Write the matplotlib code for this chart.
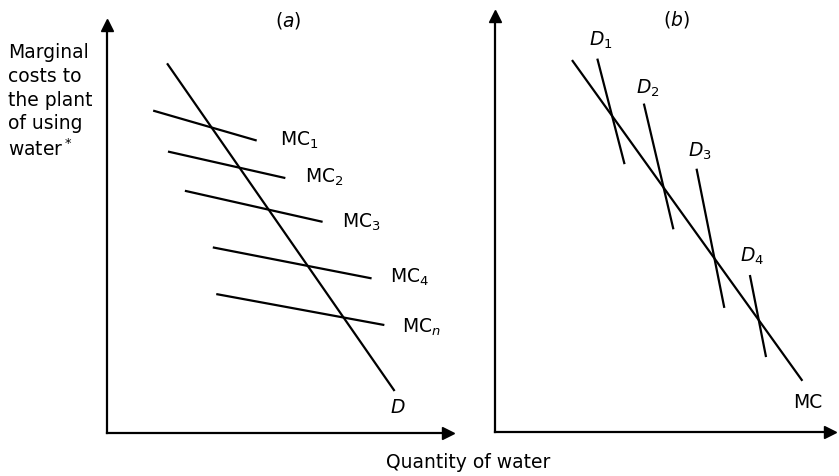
import matplotlib
matplotlib.use("Agg")
import matplotlib.pyplot as plt

# panel (a): the plant's demand curve D and a family of marginal cost curves
demand_x = [17.6, 83.2]
demand_y = [89.3, 10.4]

mc_names = ["MC$_1$", "MC$_2$", "MC$_3$", "MC$_4$", "MC$_n$"]
mc_x = [[13.7, 43.1], [18.0, 51.4], [22.9, 62.2], [31.0, 76.4], [32.0, 80.1]]
mc_y = [[78.0, 70.9], [68.1, 61.8], [58.6, 51.2], [44.9, 37.5], [33.6, 26.2]]
mc_label_x = [50.1, 57.4, 68.0, 82.0, 85.6]
mc_label_y = [70.9, 62.0, 51.1, 37.8, 25.7]

# panel (b): one marginal cost curve and several demand curves
mc_line_x = [22.7, 89.7]
mc_line_y = [88.3, 12.4]

d_names = ["$D_1$", "$D_2$", "$D_3$", "$D_4$"]
d_x = [[30.0, 37.8], [43.6, 52.1], [59.0, 67.0], [74.6, 79.2]]
d_y = [[88.6, 64.0], [77.9, 48.5], [62.4, 29.8], [37.1, 18.1]]
d_label_x = [31.0, 44.8, 59.9, 75.3]
d_label_y = [93.3, 81.9, 66.7, 41.7]

LW = 1.6
FS = 13.5

fig = plt.figure(figsize=(8.39, 4.76), dpi=100)
ax_a = fig.add_axes([0.1275, 0.0903, 0.4070, 0.8580])
ax_b = fig.add_axes([0.5900, 0.0924, 0.3990, 0.8740])


def setup_axes(ax, xmax, ymax):
    ax.set_xlim(0, xmax)
    ax.set_ylim(0, ymax)
    for side in ["top", "right"]:
        ax.spines[side].set_visible(False)
    for side in ["left", "bottom"]:
        ax.spines[side].set_linewidth(LW)
    ax.set_xticks([])
    ax.set_yticks([])
    # arrow heads at the ends of both axes
    ax.plot(1, 0, ">k", ms=8, transform=ax.transAxes, clip_on=False)
    ax.plot(0, 1, "^k", ms=8, transform=ax.transAxes, clip_on=False)


setup_axes(ax_a, 99.0, 98.9)
setup_axes(ax_b, 97.9, 99.0)

ax_a.plot(demand_x, demand_y, color="black", lw=LW)
ax_a.text(84.3, 6.3, "$D$", fontsize=FS, ha="center", va="center")
for name, xs, ys, lx, ly in zip(mc_names, mc_x, mc_y, mc_label_x, mc_label_y):
    ax_a.plot(xs, ys, color="black", lw=LW)
    ax_a.text(lx, ly, name, fontsize=FS, ha="left", va="center")
ax_a.text(52.5, 100, "($a$)", fontsize=FS, ha="center", va="center")

ax_b.plot(mc_line_x, mc_line_y, color="black", lw=LW)
ax_b.text(91.6, 7.1, "MC", fontsize=FS, ha="center", va="center")
for name, xs, ys, lx, ly in zip(d_names, d_x, d_y, d_label_x, d_label_y):
    ax_b.plot(xs, ys, color="black", lw=LW)
    ax_b.text(lx, ly, name, fontsize=FS, ha="center", va="center")
ax_b.text(53.1, 98.1, "($b$)", fontsize=FS, ha="center", va="center")

fig.text(8 / 839, 1 - 43 / 476,
         "Marginal\ncosts to\nthe plant\nof using\nwater$^*$",
         fontsize=FS, ha="left", va="top", linespacing=1.32)
fig.text(468 / 839, 1 - 463 / 476, "Quantity of water",
         fontsize=FS, ha="center", va="center")

fig.savefig("out.png", dpi=100)
